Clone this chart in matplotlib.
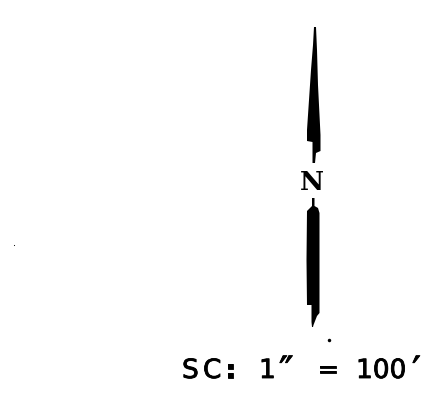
import matplotlib.pyplot as plt
import matplotlib.patheffects as pe
from matplotlib.patches import Polygon

# Outlines of the two needle halves, in image pixels
upper_x = [314, 316, 317, 318, 319.5, 320.5, 320.5, 316, 315, 312.5, 312.5, 307, 307, 309, 311, 313]
upper_y = [27, 27, 50, 85, 115, 135, 151, 153, 163, 163, 142, 141, 130, 100, 70, 45]
lower_x = [312, 314.5, 314.5, 318, 319.5, 319.5, 317, 313.5, 313, 312, 311.5, 311.5, 307, 306.5, 307, 312]
lower_y = [198, 198, 206, 208, 213, 313, 316, 325, 327, 327, 322, 305, 305, 260, 211, 206]

north_label = 'N'
# Scale note is spaced wider than any font, so each part has its own left edge
scale_parts = ['S', 'C', ':', '1', '\u2033', '=', '100', '\u2032']
scale_left = [182, 203, 225, 259, 279, 317, 356, 412]
scale_base = [378, 378, 378, 378, 384, 378, 378, 384]
scale_size = [19, 19, 19, 19, 28, 19, 19, 28]
specks_x = [329, 14]
specks_y = [340, 245]
speck_sizes = [2.5, 0.8]

fig = plt.figure(figsize=(4.42, 4.16), dpi=100)
ax = fig.add_axes([0, 0, 1, 1])
ax.set_xlim(0, 442)
ax.set_ylim(416, 0)
ax.axis('off')

ax.add_patch(Polygon(list(zip(upper_x, upper_y)), closed=True, color='black', lw=0))
ax.add_patch(Polygon(list(zip(lower_x, lower_y)), closed=True, color='black', lw=0))
for x, y, s in zip(specks_x, specks_y, speck_sizes):
    ax.plot([x], [y], 'o', color='black', markersize=s, markeredgewidth=0)

ax.text(312, 190, north_label, ha='center', va='baseline', fontsize=19,
        fontweight='bold', family='DejaVu Serif')
for part, x, base, size in zip(scale_parts, scale_left, scale_base, scale_size):
    weight = 'bold' if part == ':' else 'normal'
    t = ax.text(x, base, part, ha='left', va='baseline', fontsize=size,
                fontweight=weight, family='DejaVu Sans')
    t.set_path_effects([pe.withStroke(linewidth=0.6, foreground='black')])

plt.savefig('out.png', dpi=100)
